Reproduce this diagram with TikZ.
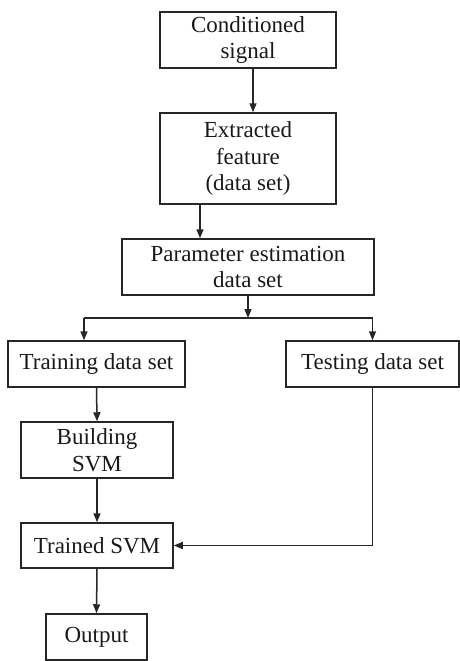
\documentclass[tikz,border=0pt]{standalone}
\usepackage{fontspec}
\setmainfont{Liberation Serif}
\usetikzlibrary{arrows.meta}
\begin{document}
\begin{tikzpicture}[x=1pt,y=-1pt,
  box/.style={draw=black!85, line width=1.5pt, inner sep=0pt, align=center,
    font=\fontsize{23}{26.5}\selectfont, text=black!90},
  arr/.style={draw=black!85, line width=1.5pt, -{Triangle[length=9pt,width=7pt]}},
  ln/.style={draw=black!85, line width=1.5pt}]
\useasboundingbox (0,0) rectangle (460,661);
\node[box, minimum width=176pt, minimum height=56pt] (cond) at (248,40) {Conditioned\\signal};
\node[box, minimum width=176pt, minimum height=91pt] (ext) at (248,158.5) {Extracted\\feature\\(data set)};
\node[box, minimum width=252pt, minimum height=56pt] (param) at (248,267) {Parameter estimation\\data set};
\node[box, minimum width=177pt, minimum height=46pt] (train) at (96.5,364) {Training data set};
\node[box, minimum width=173pt, minimum height=46pt] (test) at (372.5,364) {Testing data set};
\node[box, minimum width=152pt, minimum height=56pt] (build) at (97,450) {Building\\SVM};
\node[box, minimum width=152pt, minimum height=45pt] (trained) at (97,545.5) {Trained SVM};
\node[box, minimum width=101pt, minimum height=46pt] (out) at (96.5,637) {Output};
\coordinate (split) at (248,318);
\coordinate (left) at (84,318);
\draw[arr] ([xshift=5pt]cond.south) -- ([xshift=5pt]cond.south |- ext.north);
\draw[arr] ([xshift=-48pt]ext.south) -- ([xshift=-48pt]ext.south |- param.north);
\draw[arr] (param.south) -- (split);
\draw[ln] (left) -- (split);
\draw[arr] (left) -- (left |- train.north);
\draw[arr] (split) -| (test.north);
\draw[arr] (train.south) -- (build.north);
\draw[arr] (build.south) -- (trained.north);
\draw[arr] (test.south) |- (trained.east);
\draw[arr] (trained.south) -- (out.north);
\end{tikzpicture}
\end{document}
